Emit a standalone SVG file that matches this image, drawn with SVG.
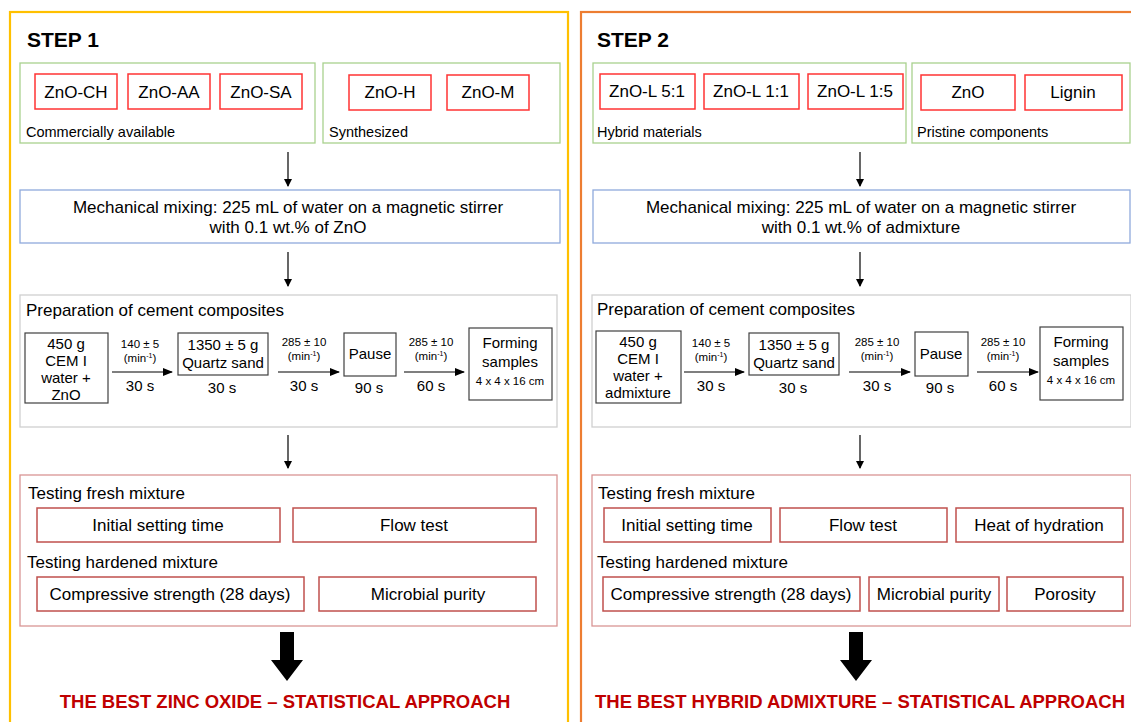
<svg xmlns="http://www.w3.org/2000/svg" width="1131" height="722" viewBox="0 0 1131 722">
<style>
text{font-family:"Liberation Sans",Arial,sans-serif;fill:#000}
.t16{font-size:17px}
.t15{font-size:17px}
.t14{font-size:15px}
.t13{font-size:14.5px}
.t11{font-size:11.5px}
.c{text-anchor:middle}
.step{font-size:21px;font-weight:bold}
.res{font-size:18.5px;font-weight:bold;fill:#C00000;text-anchor:middle}
.green{fill:#fff;stroke:#A9D18E;stroke-width:1.3}
.red{fill:#fff;stroke:#FF3333;stroke-width:1.5}
.blue{fill:#fff;stroke:#8FAADC;stroke-width:1.3}
.gray{fill:#fff;stroke:#D0D0D0;stroke-width:1.3}
.pink{fill:#fff;stroke:#D99594;stroke-width:1.3}
.dred{fill:#fff;stroke:#C0504D;stroke-width:1.5}
.blk{fill:#fff;stroke:#404040;stroke-width:1.2}
.ln{stroke:#000;stroke-width:1.2;fill:none}
</style>
<defs>
<marker id="ah" markerWidth="8" markerHeight="8" refX="7" refY="4" orient="auto" markerUnits="userSpaceOnUse">
<path d="M0,0 L8,4 L0,8 z" fill="#000"/>
</marker>
<marker id="ahs" markerWidth="10" markerHeight="8" refX="9" refY="4" orient="auto" markerUnits="userSpaceOnUse">
<path d="M0,0 L10,4 L0,8 z" fill="#000"/>
</marker>
</defs>
<rect width="1131" height="722" fill="#fff"/>
<rect x="10" y="12" width="558" height="720" fill="none" stroke="#FFC000" stroke-width="2.2"/>
<rect x="581" y="12" width="560" height="720" fill="none" stroke="#ED7D31" stroke-width="2.2"/>

<g id="step1">
<text class="step" x="27" y="47">STEP 1</text>
<g id="s1-commercial"><rect class="green" x="20" y="63" width="295" height="80"/><text class="t13" x="26" y="137">Commercially available</text></g>
<g id="s1-synth"><rect class="green" x="323" y="63" width="237" height="80"/><text class="t13" x="329" y="137">Synthesized</text></g>
<g id="zno-ch"><rect class="red" x="35" y="74" width="82" height="35"/><text class="t16 c" x="76" y="98">ZnO-CH</text></g>
<g id="zno-aa"><rect class="red" x="128" y="74" width="82" height="35"/><text class="t16 c" x="169" y="98">ZnO-AA</text></g>
<g id="zno-sa"><rect class="red" x="220" y="74" width="82" height="35"/><text class="t16 c" x="261" y="98">ZnO-SA</text></g>
<g id="zno-h"><rect class="red" x="349" y="75" width="82" height="35"/><text class="t16 c" x="390" y="98">ZnO-H</text></g>
<g id="zno-m"><rect class="red" x="447" y="75" width="82" height="35"/><text class="t16 c" x="488" y="98">ZnO-M</text></g>
<g id="s1-mixing"><rect class="blue" x="20" y="190" width="540" height="53"/><text class="t16 c" x="288" y="213">Mechanical mixing: 225 mL of water on a magnetic stirrer</text><text class="t16 c" x="288" y="233">with 0.1 wt.% of ZnO</text></g>
<g id="s1-prep"><rect class="gray" x="20" y="295" width="537" height="132"/><text class="t16" x="26" y="316">Preparation of cement composites</text></g>
<g id="s1-cem"><rect class="blk" x="25" y="333" width="83" height="70"/><text class="t14 c" x="66" y="349">450 g</text><text class="t14 c" x="66" y="366">CEM I</text><text class="t14 c" x="66" y="383">water +</text><text class="t14 c" x="66" y="400">ZnO</text></g>
<g id="s1-sand"><rect class="blk" x="178" y="333" width="90" height="42"/><text class="t14 c" x="223" y="350">1350 ± 5 g</text><text class="t14 c" x="223" y="368">Quartz sand</text><text class="t14 c" x="222" y="393">30 s</text></g>
<g id="s1-pause"><rect class="blk" x="344" y="333" width="52" height="43"/><text class="t14 c" x="370" y="359">Pause</text><text class="t14 c" x="369" y="393">90 s</text></g>
<g id="s1-form"><rect class="blk" x="469" y="328" width="83" height="72"/><text class="t14 c" x="510" y="348">Forming</text><text class="t14 c" x="510" y="367">samples</text><text class="t11 c" x="510" y="385">4 x 4 x 16 cm</text></g>
<g id="s1-tests"><rect class="pink" x="20" y="475" width="537" height="151"/><text class="t15" x="28" y="499">Testing fresh mixture</text><text class="t15" x="27" y="568">Testing hardened mixture</text></g>
<g id="s1-ist"><rect class="dred" x="37" y="508" width="243" height="34"/><text class="t16 c" x="158" y="531">Initial setting time</text></g>
<g id="s1-flow"><rect class="dred" x="293" y="508" width="243" height="34"/><text class="t16 c" x="414" y="531">Flow test</text></g>
<g id="s1-comp"><rect class="dred" x="37" y="577" width="267" height="34"/><text class="t16 c" x="170" y="600">Compressive strength (28 days)</text></g>
<g id="s1-micro"><rect class="dred" x="319" y="577" width="217" height="34"/><text class="t16 c" x="428" y="600">Microbial purity</text></g>
<g id="s1-result"><text class="res" x="285" y="708">THE BEST ZINC OXIDE – STATISTICAL APPROACH</text></g>
</g>

<g id="step2">
<text class="step" x="597" y="47">STEP 2</text>
<g id="s2-hybrid"><rect class="green" x="593" y="63" width="313" height="80"/><text class="t13" x="597" y="137">Hybrid materials</text></g>
<g id="s2-pristine"><rect class="green" x="912" y="63" width="218" height="80"/><text class="t13" x="917" y="137">Pristine components</text></g>
<g id="znol51"><rect class="red" x="600" y="74" width="95" height="35"/><text class="t16 c" x="647" y="97">ZnO-L 5:1</text></g>
<g id="znol11"><rect class="red" x="704" y="74" width="95" height="35"/><text class="t16 c" x="751" y="97">ZnO-L 1:1</text></g>
<g id="znol15"><rect class="red" x="808" y="74" width="95" height="35"/><text class="t16 c" x="855" y="97">ZnO-L 1:5</text></g>
<g id="zno"><rect class="red" x="921" y="75" width="94" height="35"/><text class="t16 c" x="968" y="98">ZnO</text></g>
<g id="lignin"><rect class="red" x="1025" y="75" width="97" height="35"/><text class="t16 c" x="1073" y="98">Lignin</text></g>
<g id="s2-mixing"><rect class="blue" x="593" y="190" width="537" height="53"/><text class="t16 c" x="861" y="213">Mechanical mixing: 225 mL of water on a magnetic stirrer</text><text class="t16 c" x="861" y="233">with 0.1 wt.% of admixture</text></g>
<g id="s2-prep"><rect class="gray" x="592" y="295" width="539" height="132"/><text class="t16" x="597" y="315">Preparation of cement composites</text></g>
<g id="s2-cem"><rect class="blk" x="596" y="331" width="85" height="72"/><text class="t14 c" x="638" y="347">450 g</text><text class="t14 c" x="638" y="364">CEM I</text><text class="t14 c" x="638" y="381">water +</text><text class="t14 c" x="638" y="398">admixture</text></g>
<g id="s2-sand"><rect class="blk" x="749" y="333" width="90" height="42"/><text class="t14 c" x="794" y="350">1350 ± 5 g</text><text class="t14 c" x="794" y="368">Quartz sand</text><text class="t14 c" x="793" y="393">30 s</text></g>
<g id="s2-pause"><rect class="blk" x="915" y="332" width="53" height="44"/><text class="t14 c" x="941" y="359">Pause</text><text class="t14 c" x="940" y="393">90 s</text></g>
<g id="s2-form"><rect class="blk" x="1040" y="327" width="83" height="73"/><text class="t14 c" x="1081" y="347">Forming</text><text class="t14 c" x="1081" y="366">samples</text><text class="t11 c" x="1081" y="384">4 x 4 x 16 cm</text></g>
<g id="s2-tests"><rect class="pink" x="592" y="475" width="539" height="151"/><text class="t15" x="598" y="499">Testing fresh mixture</text><text class="t15" x="597" y="568">Testing hardened mixture</text></g>
<g id="s2-ist"><rect class="dred" x="604" y="508" width="167" height="34"/><text class="t16 c" x="687" y="531">Initial setting time</text></g>
<g id="s2-flow"><rect class="dred" x="780" y="508" width="167" height="34"/><text class="t16 c" x="863" y="531">Flow test</text></g>
<g id="s2-heat"><rect class="dred" x="956" y="508" width="167" height="34"/><text class="t16 c" x="1039" y="531">Heat of hydration</text></g>
<g id="s2-comp"><rect class="dred" x="603" y="577" width="257" height="34"/><text class="t16 c" x="731" y="600">Compressive strength (28 days)</text></g>
<g id="s2-micro"><rect class="dred" x="869" y="577" width="130" height="34"/><text class="t16 c" x="934" y="600">Microbial purity</text></g>
<g id="s2-poro"><rect class="dred" x="1007" y="577" width="116" height="34"/><text class="t16 c" x="1065" y="600">Porosity</text></g>
<g id="s2-result"><text class="res" x="860" y="708">THE BEST HYBRID ADMIXTURE – STATISTICAL APPROACH</text></g>
</g>

<g id="connectors">
<line class="ln" x1="288" y1="152" x2="288" y2="186" marker-end="url(#ah)"/>
<line class="ln" x1="288" y1="252" x2="288" y2="286" marker-end="url(#ah)"/>
<line class="ln" x1="288" y1="435" x2="288" y2="468" marker-end="url(#ah)"/>
<line class="ln" x1="860" y1="152" x2="860" y2="186" marker-end="url(#ah)"/>
<line class="ln" x1="860" y1="252" x2="860" y2="286" marker-end="url(#ah)"/>
<line class="ln" x1="860" y1="435" x2="860" y2="468" marker-end="url(#ah)"/>
<line class="ln" x1="112" y1="372" x2="172" y2="372" marker-end="url(#ahs)"/>
<line class="ln" x1="278" y1="372" x2="339" y2="372" marker-end="url(#ahs)"/>
<line class="ln" x1="404" y1="372" x2="464" y2="372" marker-end="url(#ahs)"/>
<line class="ln" x1="684" y1="372" x2="744" y2="372" marker-end="url(#ahs)"/>
<line class="ln" x1="849" y1="372" x2="910" y2="372" marker-end="url(#ahs)"/>
<line class="ln" x1="977" y1="372" x2="1038" y2="372" marker-end="url(#ahs)"/>
<text class="t11 c" x="140" y="348">140 ± 5</text><text class="t11 c" x="140" y="362">(min<tspan font-size="7" dy="-4">-1</tspan><tspan dy="4">)</tspan></text><text class="t14 c" x="140" y="391">30 s</text>
<text class="t11 c" x="304" y="346">285 ± 10</text><text class="t11 c" x="304" y="360">(min<tspan font-size="7" dy="-4">-1</tspan><tspan dy="4">)</tspan></text><text class="t14 c" x="304" y="391">30 s</text>
<text class="t11 c" x="431" y="346">285 ± 10</text><text class="t11 c" x="431" y="360">(min<tspan font-size="7" dy="-4">-1</tspan><tspan dy="4">)</tspan></text><text class="t14 c" x="431" y="391">60 s</text>
<text class="t11 c" x="711" y="347">140 ± 5</text><text class="t11 c" x="711" y="361">(min<tspan font-size="7" dy="-4">-1</tspan><tspan dy="4">)</tspan></text><text class="t14 c" x="711" y="391">30 s</text>
<text class="t11 c" x="877" y="346">285 ± 10</text><text class="t11 c" x="877" y="360">(min<tspan font-size="7" dy="-4">-1</tspan><tspan dy="4">)</tspan></text><text class="t14 c" x="877" y="391">30 s</text>
<text class="t11 c" x="1003" y="346">285 ± 10</text><text class="t11 c" x="1003" y="360">(min<tspan font-size="7" dy="-4">-1</tspan><tspan dy="4">)</tspan></text><text class="t14 c" x="1003" y="391">60 s</text>
<path d="M280,632 H294 V660 H303 L287,681 L271,660 H280 Z" fill="#000"/>
<path d="M849,632 H863 V660 H872 L856,681 L840,660 H849 Z" fill="#000"/>
</g>
</svg>
